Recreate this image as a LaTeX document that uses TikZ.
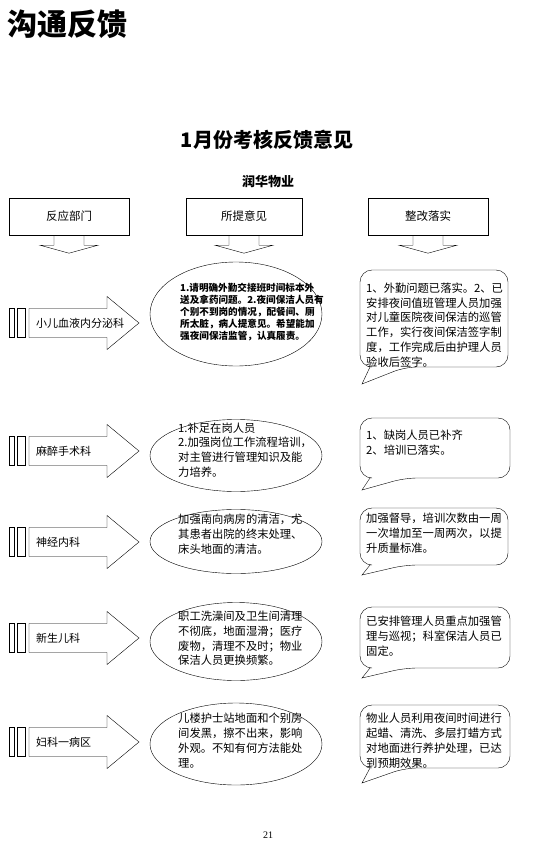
\documentclass[tikz,border=0pt]{standalone}
\usepackage{fontspec}
\setmainfont{Noto Sans CJK SC}
\newfontfamily\pagenum{Liberation Serif}
\usetikzlibrary{calc,shapes.geometric}

\tikzset{
    headbox/.style={draw, minimum width=120pt, minimum height=37pt, inner sep=0pt, font=\fontsize{11.5}{14}\selectfont},
    deptlabel/.style={anchor=west, inner sep=0pt, font=\fontsize{11}{13}\selectfont},
    bubble/.style={draw, ellipse, inner sep=0pt, minimum width=172pt},
    bubbletext/.style={anchor=west, align=left, inner sep=0pt, font=\fontsize{11.3}{14.8}\selectfont},
    notetext/.style={anchor=west, align=left, inner sep=0pt, font=\fontsize{11.3}{14.8}\selectfont},
}

\begin{document}
\begin{tikzpicture}[x=1pt,y=-1pt]
    \useasboundingbox[fill=white] (0,0) rectangle (542,848);

    % titles
    \node[anchor=west, inner sep=0pt, font=\fontsize{30}{33}\selectfont\bfseries] (title) at (7,24) {沟通反馈};
    \node[inner sep=0pt, font=\fontsize{20}{24}\selectfont\bfseries] (month) at (267,140) {1月份考核反馈意见};
    \node[inner sep=0pt, font=\fontsize{13}{16}\selectfont\bfseries] (company) at (268,182) {润华物业};

    % column heads
    \node[headbox] (dept) at (69,216.5) {反应部门};
    \node[headbox, minimum width=116pt] (idea) at (244,216.5) {所提意见};
    \node[headbox] (done) at (428,216.5) {整改落实};
    \draw ($(dept.south)+(-15,0)$) -- ++(0,10) -- ++(-14,0) -- ++(29,8) -- ++(29,-8) -- ++(-14,0) -- ++(0,-10);
    \draw ($(idea.south)+(-15,0)$) -- ++(0,10) -- ++(-14,0) -- ++(29,8) -- ++(29,-8) -- ++(-14,0) -- ++(0,-10);
    \draw ($(done.south)+(-15,0)$) -- ++(0,10) -- ++(-14,0) -- ++(29,8) -- ++(29,-8) -- ++(-14,0) -- ++(0,-10);

    % row 1
    \draw (9,308.5) rectangle (14,337.5);
    \draw (17,308.5) rectangle (25,337.5);
    \draw (29,308.5) -- (107,308.5) -- (107,296.5) -- (139,323) -- (107,349.5) -- (107,337.5) -- (29,337.5) -- cycle;
    \node[deptlabel] (dept1) at (36,323) {小儿血液内分泌科};
    \node[bubble, minimum height=104pt] (idea1) at (236,314) {};
    \node[bubbletext, font=\fontsize{9.6}{11.8}\selectfont\bfseries] (ideatext1) at (180,312) {1.请明确外勤交接班时间标本外\\送及拿药问题。2.夜间保洁人员有\\个别不到岗的情况，配餐间、厕\\所太脏，病人提意见。希望能加\\强夜间保洁监管，认真履责。};
    \draw[rounded corners=12pt] (370,367) -- (360,367) -- (360,270) -- (508,270) -- (508,367) -- (405,367) [sharp corners] -- (362,384) -- cycle;
    \node[notetext] (donetext1) at (366,325) {1、外勤问题已落实。2、已\\安排夜间值班管理人员加强\\对儿童医院夜间保洁的巡管\\工作，实行夜间保洁签字制\\度，工作完成后由护理人员\\验收后签字。};

    % row 2
    \draw (9,436.5) rectangle (14,465.5);
    \draw (17,436.5) rectangle (25,465.5);
    \draw (29,436.5) -- (107,436.5) -- (107,424.5) -- (139,451) -- (107,477.5) -- (107,465.5) -- (29,465.5) -- cycle;
    \node[deptlabel] (dept2) at (36,451) {麻醉手术科};
    \node[bubble, minimum height=72pt] (idea2) at (236,455.5) {};
    \node[bubbletext] (ideatext2) at (178,450) {1.补足在岗人员\\2.加强岗位工作流程培训，\\对主管进行管理知识及能\\力培养。};
    \draw[rounded corners=12pt] (370,478) -- (360,478) -- (360,418) -- (510,418) -- (510,478) -- (405,478) [sharp corners] -- (362,490) -- cycle;
    \node[notetext] (donetext2) at (366,442.5) {1、缺岗人员已补齐\\2、培训已落实。};

    % row 3
    \draw (9,527.5) rectangle (14,556.5);
    \draw (17,527.5) rectangle (25,556.5);
    \draw (29,527.5) -- (107,527.5) -- (107,515.5) -- (139,542) -- (107,568.5) -- (107,556.5) -- (29,556.5) -- cycle;
    \node[deptlabel] (dept3) at (36,542) {神经内科};
    \node[bubble, minimum height=64pt] (idea3) at (236,541.5) {};
    \node[bubbletext] (ideatext3) at (178,534) {加强南向病房的清洁，尤\\其患者出院的终末处理、\\床头地面的清洁。};
    \draw[rounded corners=12pt] (370,565) -- (360,565) -- (360,508) -- (508,508) -- (508,565) -- (405,565) [sharp corners] -- (362,575) -- cycle;
    \node[notetext] (donetext3) at (366,533) {加强督导，培训次数由一周\\一次增加至一周两次，以提\\升质量标准。};

    % row 4
    \draw (9,623.5) rectangle (14,652.5);
    \draw (17,623.5) rectangle (25,652.5);
    \draw (29,623.5) -- (107,623.5) -- (107,611.5) -- (139,638) -- (107,664.5) -- (107,652.5) -- (29,652.5) -- cycle;
    \node[deptlabel] (dept4) at (36,638) {新生儿科};
    \node[bubble, minimum height=78pt] (idea4) at (236,641.5) {};
    \node[bubbletext] (ideatext4) at (178,638.5) {职工洗澡间及卫生间清理\\不彻底，地面湿滑；医疗\\废物，清理不及时；物业\\保洁人员更换频繁。};
    \draw[rounded corners=12pt] (370,668) -- (360,668) -- (360,607) -- (510,607) -- (510,668) -- (405,668) [sharp corners] -- (362,678) -- cycle;
    \node[notetext] (donetext4) at (366,636) {已安排管理人员重点加强管\\理与巡视；科室保洁人员已\\固定。};

    % row 5
    \draw (9,727.5) rectangle (14,756.5);
    \draw (17,727.5) rectangle (25,756.5);
    \draw (29,727.5) -- (107,727.5) -- (107,715.5) -- (139,742) -- (107,768.5) -- (107,756.5) -- (29,756.5) -- cycle;
    \node[deptlabel] (dept5) at (36,742) {妇科一病区};
    \node[bubble, minimum height=82pt] (idea5) at (236,744) {};
    \node[bubbletext] (ideatext5) at (178,740.5) {儿楼护士站地面和个别房\\间发黑，擦不出来，影响\\外观。不知有何方法能处\\理。};
    \draw[rounded corners=12pt] (370,768) -- (360,768) -- (360,705) -- (510,705) -- (510,768) -- (405,768) [sharp corners] -- (362,783) -- cycle;
    \node[notetext] (donetext5) at (366,740.5) {物业人员利用夜间时间进行\\起蜡、清洗、多层打蜡方式\\对地面进行养护处理，已达\\到预期效果。};

    % page number
    \node[inner sep=0pt, font=\pagenum\fontsize{10}{12}\selectfont] (page) at (268,835) {21};
\end{tikzpicture}
\end{document}
